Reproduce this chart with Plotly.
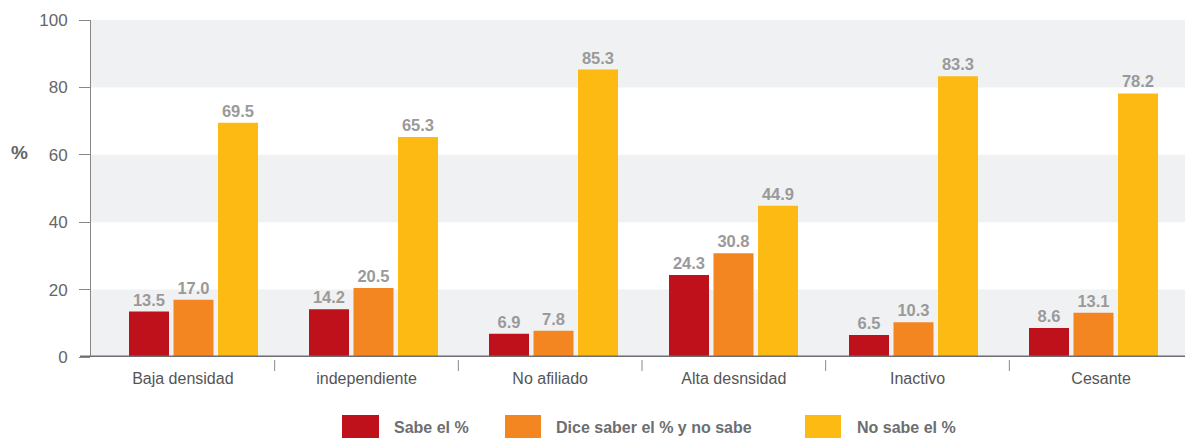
import plotly.graph_objects as go

categories = ["Baja densidad", "independiente", "No afiliado", "Alta desnsidad", "Inactivo", "Cesante"]
series_names = ["Sabe el %", "Dice saber el % y no sabe", "No sabe el %"]
sabe = [13.5, 14.2, 6.9, 24.3, 6.5, 8.6]
dice_saber = [17.0, 20.5, 7.8, 30.8, 10.3, 13.1]
no_sabe = [69.5, 65.3, 85.3, 44.9, 83.3, 78.2]
y_ticks = [0, 20, 40, 60, 80, 100]

colors = ["#be111b", "#f38621", "#fcba12"]

# page body has an 8px default margin; compensate so the plot sits where the reference has it
PAGE = 8
W, H = 1193 - PAGE, 438 - PAGE
left_m, right_m, top_m, bot_m = 91 - PAGE, 0, 20 - PAGE, 81
pw = W - left_m - right_m
ph = H - top_m - bot_m
n = len(categories)

# bar groups are spaced slightly tighter than the category slots (as in the reference)
GROUP_PX = 180.0
BAR_PX, STEP_PX = 40.0, 44.5
x_lo = -(193.5 - 91) / GROUP_PX
x_hi = x_lo + pw / GROUP_PX
bar_w = BAR_PX / GROUP_PX
first_off = -(2 * STEP_PX + BAR_PX) / 2 / GROUP_PX
offsets = [first_off + k * STEP_PX / GROUP_PX for k in range(3)]
label_pos = [x_lo + (i + 0.5) * (pw / n) / GROUP_PX for i in range(n)]


def px2x(px):
    return (px - 91) / pw


def py2y(py):
    return (357 - py) / ph


fig = go.Figure()
for name, vals, col, off in zip(series_names, [sabe, dice_saber, no_sabe], colors, offsets):
    fig.add_trace(go.Bar(
        x=list(range(n)), y=vals, name=name,
        marker=dict(color=col, line=dict(width=0)),
        width=bar_w, offset=off,
        texttemplate="%{y:.1f}", textposition="outside",
        textfont=dict(family="Liberation Sans, Arial", size=16.5, color="#9a9a9a", weight="bold"),
        cliponaxis=False, showlegend=False,
    ))

shapes = []
for lo, hi in [(0, 20), (40, 60), (80, 100)]:
    shapes.append(dict(type="rect", xref="paper", yref="y", x0=0, x1=1, y0=lo, y1=hi,
                       fillcolor="#f0f1f3", line=dict(width=0), layer="below"))
for i in range(1, n):
    shapes.append(dict(type="line", xref="paper", yref="paper", x0=i / n, x1=i / n,
                       y0=py2y(360), y1=py2y(371), line=dict(color="#8a8a8a", width=1)))
shapes.append(dict(type="line", xref="paper", yref="y", x0=px2x(80), x1=1, y0=0, y1=0,
                   line=dict(color="#6d6e71", width=3)))

annotations = [dict(text="<b>%</b>", xref="paper", yref="paper", x=px2x(19), y=py2y(152),
                    xanchor="center", yanchor="middle", showarrow=False,
                    font=dict(family="Liberation Sans, Arial", size=19, color="#666666"))]
legend_items = [(342, 379, 392), (505, 541, 554), (805, 841, 855)]
for (x0, x1, tx), col, name in zip(legend_items, colors, series_names):
    shapes.append(dict(type="rect", xref="paper", yref="paper",
                       x0=px2x(x0), x1=px2x(x1), y0=py2y(415), y1=py2y(438),
                       fillcolor=col, line=dict(width=0)))
    annotations.append(dict(text="<b>" + name + "</b>", xref="paper", yref="paper",
                            x=px2x(tx), y=py2y(427), xanchor="left", yanchor="middle",
                            showarrow=False,
                            font=dict(family="Liberation Sans, Arial", size=16, color="#6d6e71")))

fig.update_layout(
    width=W, height=H,
    margin=dict(l=left_m, r=right_m, t=top_m, b=bot_m, autoexpand=False),
    plot_bgcolor="white", paper_bgcolor="white",
    barmode="group",
    shapes=shapes, annotations=annotations,
    font=dict(family="Liberation Sans, Arial"),
    xaxis=dict(type="linear", tickmode="array", tickvals=label_pos, ticktext=categories,
               range=[x_lo, x_hi], showgrid=False, zeroline=False,
               showline=False, ticks="", tickfont=dict(size=16, color="#555555"),
               ticklabelstandoff=10, automargin=False),
    yaxis=dict(range=[0, 100], tickvals=y_ticks, showgrid=False, zeroline=False,
               showline=True, linecolor="#888888", linewidth=1,
               ticks="outside", ticklen=11, tickcolor="#888888", ticklabelstandoff=8,
               tickfont=dict(size=17, color="#666666"), automargin=False),
)

fig.write_html("out.html")
